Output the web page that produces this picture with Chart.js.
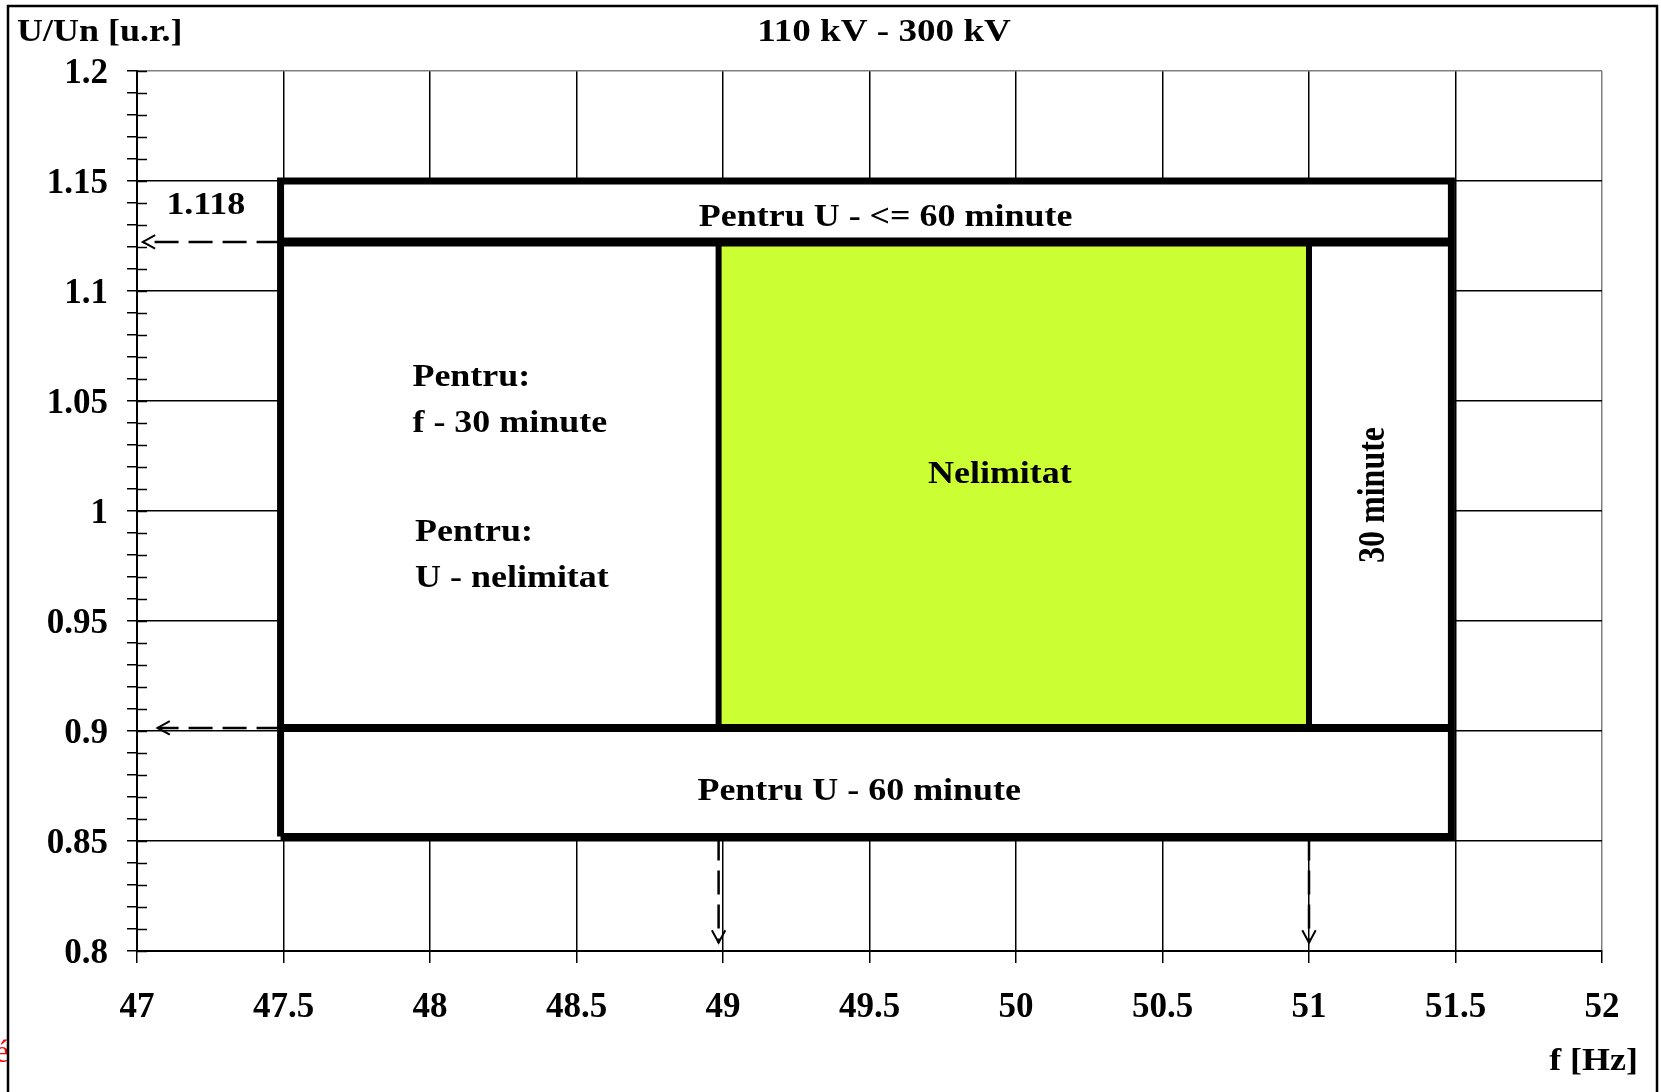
<!DOCTYPE html>
<html lang="ro">
<head>
    <meta charset="UTF-8">
    <title>110 kV - 300 kV</title>
    <script src="https://cdn.jsdelivr.net/npm/chart.js"></script>
    <style>
        body {
            margin: 0;
            padding: 0;
            background-color: #fff;
        }
        #wrap {
            width: 1661px;
            height: 1092px;
        }
    </style>
</head>
<body>
<div id="wrap">
    <canvas id="grafic" width="1661" height="1092"></canvas>
</div>
<script>
    // Axe: frecventa f [Hz] si tensiune U/Un [u.r.]
    var fRange = [47, 52];
    var fStep = 0.5;
    var uRange = [0.8, 1.2];
    var uStep = 0.01;       // gradatii mici
    var uLabelStep = 0.05;  // gradatii cu eticheta

    // Zona de functionare (dreptunghiul mare)
    var zoneF = [47.49, 51.486];
    var zoneU = [0.852, 1.15];

    // Zona nelimitata (verde)
    var normalF = [48.985, 51.0];
    var limitU = [0.9014, 1.1223];

    // Varfurile sagetilor punctate
    var arrowTipF = [47.02, 47.07];   // sageti orizontale (sus, jos)
    var arrowTipU = [0.8038, 0.8038]; // sageti verticale (49, 51)

    var FONT_FAMILY = "'Liberation Serif', 'Times New Roman', serif";
    var STRETCH = 1.16; // textul din original este latit pe orizontala

    function rect(fx, uy) {
        return [
            {x: fx[0], y: uy[0]}, {x: fx[1], y: uy[0]},
            {x: fx[1], y: uy[1]}, {x: fx[0], y: uy[1]},
            {x: fx[0], y: uy[0]}
        ];
    }

    function isMajor(v) {
        return Math.round(v * 100) % Math.round(uLabelStep * 100) === 0;
    }

    function numar(v) {
        return String(parseFloat(v.toFixed(2)));
    }

    // scrie text (latit) in pozitia data
    function scris(ctx, s, x, y, align, base, size, rot) {
        ctx.save();
        ctx.translate(x, y);
        if (rot) {
            ctx.rotate(rot);
            ctx.scale(1, STRETCH);
        } else {
            ctx.scale(STRETCH, 1);
        }
        ctx.font = 'bold ' + size + 'px ' + FONT_FAMILY;
        ctx.fillStyle = '#000';
        ctx.textAlign = align;
        ctx.textBaseline = base;
        ctx.fillText(s, 0, 0);
        ctx.restore();
    }

    var fundal = {
        id: 'fundal',
        beforeDraw: function(chart) {
            var ctx = chart.ctx;
            ctx.save();
            ctx.fillStyle = '#fff';
            ctx.fillRect(0, 0, chart.width, chart.height);
            ctx.restore();
        }
    };

    var decor = {
        id: 'decor',
        afterDatasetsDraw: function(chart) {
            var ctx = chart.ctx;
            var xs = chart.scales.x, ys = chart.scales.y;
            var X = function(v) { return xs.getPixelForValue(v); };
            var Y = function(v) { return ys.getPixelForValue(v); };

            // gradatiile axei U se continua si in interior
            ctx.save();
            ctx.strokeStyle = '#000';
            ctx.lineWidth = 1.5;
            ys.ticks.forEach(function(t) {
                var py = Math.round(ys.getPixelForValue(t.value)) + 0.5;
                ctx.beginPath();
                ctx.moveTo(xs.left, py);
                ctx.lineTo(xs.left + 10, py);
                ctx.stroke();
            });
            ctx.restore();

            // capetele sagetilor
            ctx.save();
            ctx.strokeStyle = '#000';
            ctx.lineWidth = 2;
            chart.data.datasets.forEach(function(ds, i) {
                if (!ds.sageata) return;
                var pts = chart.getDatasetMeta(i).data;
                var a = pts[pts.length - 2], b = pts[pts.length - 1];
                var ang = Math.atan2(b.y - a.y, b.x - a.x);
                var L = 14, w = 0.5;
                ctx.beginPath();
                ctx.moveTo(b.x - L * Math.cos(ang - w), b.y - L * Math.sin(ang - w));
                ctx.lineTo(b.x, b.y);
                ctx.lineTo(b.x - L * Math.cos(ang + w), b.y - L * Math.sin(ang + w));
                ctx.stroke();
            });
            ctx.restore();

            // etichetele din grafic
            scris(ctx, '1.118', X(47.235), Y(1.1386), 'center', 'middle', 31);
            scris(ctx, 'Pentru U - <= 60 minute', X(49.555), Y(1.1297), 'center', 'alphabetic', 31);
            scris(ctx, 'Pentru:', X(47.94), Y(1.0570), 'left', 'alphabetic', 31);
            scris(ctx, 'f - 30 minute', X(47.94), Y(1.0360), 'left', 'alphabetic', 31);
            scris(ctx, 'Pentru:', X(47.949), Y(0.9864), 'left', 'alphabetic', 31);
            scris(ctx, 'U - nelimitat', X(47.949), Y(0.9656), 'left', 'alphabetic', 31);
            scris(ctx, 'Nelimitat', X(49.945), Y(1.0165), 'center', 'middle', 31);
            scris(ctx, '30 minute', X(51.224), Y(1.0073), 'center', 'middle', 32, -Math.PI / 2);
            scris(ctx, 'Pentru U - 60 minute', X(49.465), Y(0.8686), 'center', 'alphabetic', 31);
        },
        afterDraw: function(chart) {
            var ctx = chart.ctx;
            // titlul si denumirile axelor
            scris(ctx, 'U/Un [u.r.]', 17, 33, 'left', 'middle', 31);
            scris(ctx, '110 kV - 300 kV', 884, 33, 'center', 'middle', 32);
            scris(ctx, 'f [Hz]', 1638, 1062, 'right', 'middle', 31);

            // restul de text taiat din stanga
            ctx.save();
            ctx.fillStyle = '#ff0000';
            ctx.font = '32px ' + FONT_FAMILY;
            ctx.textAlign = 'right';
            ctx.textBaseline = 'middle';
            ctx.fillText('é', 9, 1054);
            // chenarul exterior
            ctx.strokeStyle = '#000';
            ctx.lineWidth = 2.5;
            ctx.strokeRect(8, 6, 1649, 1200);
            ctx.restore();
        }
    };

    var ctx = document.getElementById('grafic').getContext('2d');
    var grafic = new Chart(ctx, {
        type: 'line',
        data: {
            datasets: [
                {
                    label: 'zona',
                    data: rect(zoneF, zoneU),
                    fill: 'shape',
                    backgroundColor: '#ffffff',
                    borderColor: '#000',
                    borderWidth: 7,
                    order: 10
                },
                {
                    label: 'nelimitat',
                    data: rect(normalF, limitU),
                    fill: 'shape',
                    backgroundColor: '#ccff33',
                    borderColor: '#000',
                    borderWidth: 6,
                    order: 9
                },
                {
                    label: 'limita sus',
                    data: [{x: zoneF[0], y: limitU[1]}, {x: zoneF[1], y: limitU[1]}],
                    borderColor: '#000',
                    borderWidth: 9,
                    order: 5
                },
                {
                    label: 'limita jos',
                    data: [{x: zoneF[0], y: limitU[0]}, {x: zoneF[1], y: limitU[0]}],
                    borderColor: '#000',
                    borderWidth: 8,
                    order: 5
                },
                {
                    label: 'sageata 1.118',
                    data: [{x: zoneF[0], y: limitU[1]}, {x: arrowTipF[0], y: limitU[1]}],
                    borderColor: '#000',
                    borderWidth: 2.5,
                    borderDash: [24, 10],
                    sageata: true,
                    order: 1
                },
                {
                    label: 'sageata 0.9',
                    data: [{x: zoneF[0], y: limitU[0]}, {x: arrowTipF[1], y: limitU[0]}],
                    borderColor: '#000',
                    borderWidth: 2.5,
                    borderDash: [24, 10],
                    sageata: true,
                    order: 1
                },
                {
                    label: 'sageata 49',
                    data: [{x: normalF[0], y: zoneU[0]}, {x: normalF[0], y: arrowTipU[0]}],
                    borderColor: '#000',
                    borderWidth: 2.5,
                    borderDash: [24, 10],
                    sageata: true,
                    order: 1
                },
                {
                    label: 'sageata 51',
                    data: [{x: normalF[1], y: zoneU[0]}, {x: normalF[1], y: arrowTipU[1]}],
                    borderColor: '#000',
                    borderWidth: 2.5,
                    borderDash: [24, 10],
                    sageata: true,
                    order: 1
                }
            ]
        },
        options: {
            responsive: false,
            animation: false,
            events: [],
            elements: {
                point: { radius: 0 },
                line: { tension: 0, borderJoinStyle: 'miter', borderCapStyle: 'butt' }
            },
            layout: {
                padding: { top: 71, right: 59, left: 0, bottom: 0 }
            },
            plugins: {
                legend: { display: false },
                tooltip: { enabled: false },
                title: { display: false }
            },
            scales: {
                x: {
                    type: 'linear',
                    min: fRange[0],
                    max: fRange[1],
                    afterFit: function(scale) { scale.height = 141; },
                    border: { color: '#000', width: 2 },
                    grid: {
                        color: function(c) {
                            return c.tick && c.tick.value === fRange[1] ? '#808080' : '#000';
                        },
                        tickColor: '#000',
                        lineWidth: 1.5,
                        tickLength: 12
                    },
                    ticks: {
                        stepSize: fStep,
                        autoSkip: false,
                        maxRotation: 0,
                        padding: 24,
                        color: '#000',
                        font: { family: FONT_FAMILY, size: 35, weight: 'bold' },
                        callback: function(value) { return numar(value); }
                    }
                },
                y: {
                    min: uRange[0],
                    max: uRange[1],
                    afterFit: function(scale) { scale.width = 137; },
                    border: { color: '#000', width: 2 },
                    grid: {
                        color: function(c) {
                            if (!c.tick) return '#000';
                            if (!isMajor(c.tick.value)) return 'rgba(0,0,0,0)';
                            return c.tick.value === uRange[1] ? '#808080' : '#000';
                        },
                        tickColor: '#000',
                        lineWidth: 1.5,
                        tickLength: 10
                    },
                    ticks: {
                        stepSize: uStep,
                        autoSkip: false,
                        padding: 19,
                        labelOffset: 3,
                        color: '#000',
                        font: { family: FONT_FAMILY, size: 35, weight: 'bold' },
                        callback: function(value) {
                            return isMajor(value) ? numar(value) : '';
                        }
                    }
                }
            }
        },
        plugins: [fundal, decor]
    });
</script>
</body>
</html>
